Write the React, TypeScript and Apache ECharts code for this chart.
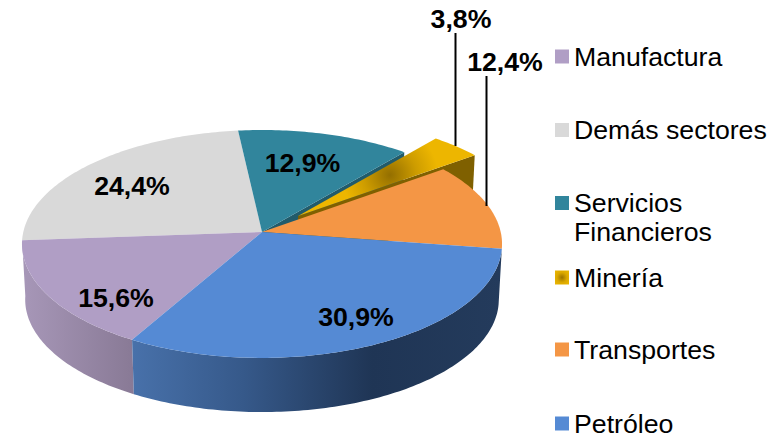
import React, { useEffect, useRef } from "react";
import * as echarts from "echarts";

// Slices, clockwise around the pie
const categories = ["Petróleo", "Manufactura", "Demás sectores", "Servicios Financieros", "Minería", "Transportes"];
const shares = [30.9, 15.6, 24.4, 12.9, 3.8, 12.4];
const legendOrder = ["Manufactura", "Demás sectores", "Servicios Financieros", "Minería", "Transportes", "Petróleo"];
const legendLabels = ["Manufactura", "Demás sectores", "Servicios\nFinancieros", "Minería", "Transportes", "Petróleo"];
const paintOrder = ["Demás sectores", "Servicios Financieros", "Minería", "Transportes", "Manufactura", "Petróleo"];

const FONT = '"Liberation Sans", Arial, sans-serif';
const FIRST_ANGLE = 98.4;
const TOP = { cx: 262, cy: 232, R: 238.7, S: 112.7, k: 0.105 };
const BOTTOM = { cx: 262, cy: 287.8, R: 235.5, S: 111.2, k: 0.105 };
const EXPLODE = 0.21;

type Face = typeof TOP;
const rad = (d: number) => (d * Math.PI) / 180;

function pt(face: Face, deg: number, du = 0, dv = 0, radial = 1): number[] {
  const u = radial * Math.sin(rad(deg)) + du;
  const v = -radial * Math.cos(rad(deg)) + dv;
  const w = 1 - face.k * v;
  return [face.cx + (face.R * u) / w, face.cy + (face.S * v) / w];
}
function arc(face: Face, a: number, b: number, du = 0, dv = 0): number[][] {
  const n = Math.max(2, Math.ceil(Math.abs(b - a)));
  const out: number[][] = [];
  for (let i = 0; i <= n; i++) out.push(pt(face, a + ((b - a) * i) / n, du, dv));
  return out;
}
const linearX = (x: number, x2: number, colorStops: any[]) => ({ type: "linear", x, y: 0, x2, y2: 0, global: true, colorStops });

const topColors: Record<string, any> = {
  "Petróleo": "#558AD4",
  "Manufactura": "#B09EC5",
  "Demás sectores": "#D9D9D9",
  "Servicios Financieros": "#31859C",
  "Minería": { type: "radial", x: 0.5, y: 0.5, r: 0.6, colorStops: [{ offset: 0, color: "#9A7300" }, { offset: 0.6, color: "#DBA800" }, { offset: 1, color: "#E8B400" }] },
  "Transportes": "#F49645",
};
const labelPos: Record<string, number[]> = {
  "Petróleo": [356, 317],
  "Manufactura": [116, 298],
  "Demás sectores": [132, 186],
  "Servicios Financieros": [302.5, 163],
  "Minería": [461, 19],
  "Transportes": [505, 62],
};
const leaders: Record<string, number[]> = {
  "Minería": [455.5, 33, 455.5, 146],
  "Transportes": [486.5, 76, 486.5, 206],
};
const legendTops = [43, 116.5, 188.5, 264, 336, 410];

function wall(a: number, b: number, fill: any) {
  return { type: "polygon", shape: { points: [...arc(TOP, a, b), ...arc(BOTTOM, b, a)] }, style: { fill } };
}

function sliceChildren(name: string, share: number) {
  const i = categories.indexOf(name);
  const before = shares.slice(0, i).reduce((s, x) => s + x, 0);
  const a = FIRST_ANGLE + (before * 360) / 100;
  const b = a + (share * 360) / 100;
  const kids: any[] = [];
  const du = name === "Minería" ? EXPLODE * Math.sin(rad((a + b) / 2)) : 0;
  const dv = name === "Minería" ? -EXPLODE * Math.cos(rad((a + b) / 2)) : 0;

  if (name === "Petróleo") {
    kids.push(wall(a, b, linearX(pt(TOP, b)[0], pt(TOP, a)[0], [
      { offset: 0, color: "#4871AA" },
      { offset: 0.3, color: "#36598A" },
      { offset: 0.65, color: "#1F3555" },
      { offset: 1, color: "#243B5C" },
    ])));
  }
  if (name === "Manufactura") {
    kids.push(wall(a, b, linearX(22, 132, [
      { offset: 0, color: "#A797B8" },
      { offset: 1, color: "#897A96" },
    ])));
  }
  if (name === "Servicios Financieros") {
    const e = pt(TOP, b), f = pt(BOTTOM, b);
    kids.push({ type: "polygon", shape: { points: [[TOP.cx, TOP.cy], e, f, [BOTTOM.cx, BOTTOM.cy]] }, style: { fill: "#215B6B" } });
  }
  if (name === "Minería") {
    const c0 = pt(TOP, 0, du, dv, 0), e0 = pt(TOP, b, du, dv), e1 = pt(BOTTOM, b, du, dv), c1 = pt(BOTTOM, 0, du, dv, 0);
    kids.push({ type: "polygon", shape: { points: [c0, e0, e1, c1] }, style: { fill: "#7F6000" } });
  }
  const topFill = name === "Minería"
    ? { type: "radial", x: 390, y: 175, r: 48, global: true, colorStops: [{ offset: 0, color: "#946F00" }, { offset: 0.55, color: "#CD9C00" }, { offset: 1, color: "#EDB600" }] }
    : topColors[name];
  kids.push({
    type: "polygon",
    shape: { points: [pt(TOP, 0, du, dv, 0), ...arc(TOP, a, b, du, dv)] },
    style: { fill: topFill },
  });
  if (leaders[name]) {
    const [x1, y1, x2, y2] = leaders[name];
    kids.push({ type: "line", shape: { x1, y1, x2, y2 }, style: { stroke: "#000", lineWidth: 2 } });
  }
  const [lx, ly] = labelPos[name];
  kids.push({
    type: "text",
    x: lx,
    y: ly,
    style: {
      text: share.toFixed(1).replace(".", ",") + "%",
      fill: "#000",
      font: `bold 26.7px ${FONT}`,
      align: "center",
      verticalAlign: "middle",
    },
  });
  return kids;
}

export default function App() {
  const ref = useRef<HTMLDivElement>(null);
  useEffect(() => {
    const chart = echarts.init(ref.current!, null, { renderer: "svg" });
    chart.setOption({
      animation: false,
      backgroundColor: "#fff",
      legend: legendOrder.map((name, i) => {
        const two = legendLabels[i].includes("\n");
        return {
          data: [name],
          left: 555,
          top: legendTops[i],
          orient: "vertical",
          padding: 0,
          itemWidth: 14,
          itemHeight: two ? 58 : 14,
          itemGap: 0,
          selectedMode: false,
          icon: two ? "path://M0,7.5H14V21.5H0Z M0,0L14,0Z M0,58L14,58Z" : "rect",
          formatter: () => legendLabels[i],
          textStyle: { fontFamily: FONT, fontSize: 26.7, lineHeight: two ? 29 : 24, color: "#000", padding: 0 },
        };
      }),
      series: paintOrder.map((name) => ({
        type: "custom",
        name,
        coordinateSystem: "none",
        silent: true,
        itemStyle: { color: topColors[name] },
        data: [[shares[categories.indexOf(name)]]],
        renderItem: (_p: any, api: any) => ({
          type: "group",
          children: sliceChildren(name, api.value(0)),
        }),
      })),
    });
    return () => chart.dispose();
  }, []);
  return <div ref={ref} style={{ position: "fixed", left: 0, top: 0, width: 783, height: 435 }} />;
}
